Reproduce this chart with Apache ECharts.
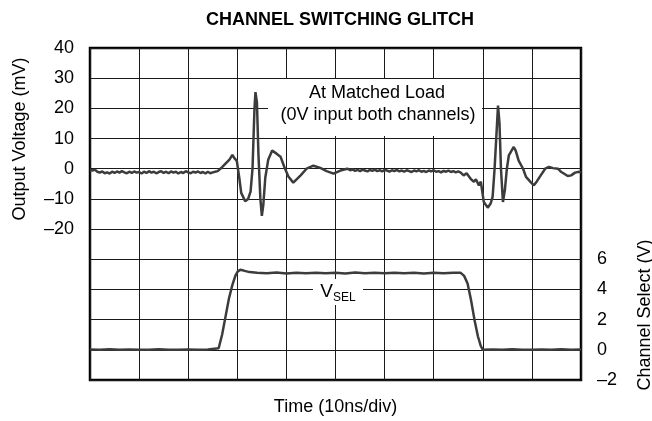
<!DOCTYPE html>
<html>
<head>
<meta charset="utf-8">
<script src="https://cdn.jsdelivr.net/npm/echarts@6/dist/echarts.min.js"></script>
<style>
html,body{margin:0;padding:0;background:#fff;}
#chart{width:652px;height:421px;}
</style>
</head>
<body>
<div id="chart"></div>
<script>
// ---- Data ----
// Output voltage trace: time (ns) and mV
var outputTime = [
  0,0.5,1,1.5,2,2.5,3,3.5,4,4.5,5,5.5,6,6.5,7,7.5,8,8.5,9,9.5,
  10,10.5,11,11.5,12,12.5,13,13.5,14,14.5,15,15.5,16,16.5,17,17.5,18,18.5,19,19.5,
  20,20.5,21,21.5,22,22.5,23,23.5,24,24.5,25,25.5,26,
  26.9,27.8,28.4,29.0,29.4,29.9,30.4,30.8,31.6,32.2,32.7,33.1,33.5,33.7,34.0,34.3,34.7,35.0,35.3,35.7,
  36.3,37.1,38.0,38.8,39.6,40.4,41.4,42.9,44.1,45.5,46.9,48.2,49.6,51.0,52.4,
  53,53.5,54,54.5,55,55.5,56,56.5,57,57.5,58,58.5,59,59.5,60,60.5,61,61.5,62,62.5,
  63,63.5,64,64.5,65,65.5,66,66.5,67,67.5,68,68.5,69,69.5,70,70.5,71,71.5,72,72.5,
  73,73.5,74,74.5,75,75.5,
  76.1,76.7,77.6,78.2,78.6,79.2,79.6,80.2,81.0,81.6,82.0,82.4,82.9,83.1,83.4,83.7,84.1,84.5,84.9,85.3,
  86.3,86.7,87.3,88.2,88.8,89.8,90.4,91.0,91.8,92.7,93.5,94.3,95.3,95.9,96.5,97.3,98.0,98.8,99.6,100
];
var outputMv = [
  -0.4,-0.6,-0.3,-1.0,-1.3,-0.9,-1.5,-1.2,-1.6,-1.0,-1.4,-0.9,-1.3,-0.8,-1.2,-1.5,-1.0,-1.4,-0.9,-1.3,
  -1.1,-1.6,-1.0,-1.4,-0.8,-1.3,-1.0,-1.5,-1.1,-0.8,-1.4,-1.0,-1.5,-0.9,-1.3,-1.0,-1.6,-1.1,-1.4,-0.8,
  -1.2,-1.5,-1.0,-1.3,-0.9,-1.4,-1.1,-1.6,-1.0,-1.5,-1.2,-1.0,-0.8,
  0.5,2.0,3.0,4.6,3.5,2.6,-3,-8,-10.8,-10,-7.6,0,20,25.4,22,5,-10,-15.6,-12,-3,
  3,6,5,4,0.5,-2.6,-4.6,-2.2,0,1,0.3,-0.8,-1.6,-0.6,0,
  -0.5,-0.2,-0.7,-0.4,-0.8,-0.3,-0.6,-0.9,-0.4,-0.7,-0.3,-0.8,-0.5,-0.9,-0.4,-0.6,-1.0,-0.5,-0.8,-0.4,
  -0.9,-0.6,-1.0,-0.5,-0.8,-1.1,-0.6,-0.9,-0.5,-1.0,-0.7,-1.1,-0.6,-0.9,-0.5,-1.0,-0.8,-1.2,-0.7,-1.0,
  -0.6,-1.1,-0.8,-1.2,-0.9,-1.3,
  -2.2,-1.5,-3.5,-4.3,-3.5,-5.5,-4.3,-11,-12.9,-11.5,-9.3,0,15,20.9,15,0,-11,-7,0,4.4,
  7.2,6,2.7,0,-2.7,-4.5,-5.5,-4.2,-2.2,0,0.6,0.2,0,-1,-1.6,-2.4,-2.2,-1.3,-1.0,-1.2
];
// Channel select (VSEL) trace: time (ns) and V
var vselTime = [
  0,2,4,6,8,10,12,14,16,18,20,22,24,26.2,
  26.9,27.6,28.3,29.0,29.6,30.1,30.6,31.3,32.5,34,36,38,40,42,44,46,48,50,52,54,56,58,60,
  62,64,66,68,70,72,74,75.5,
  76.2,76.9,77.6,78.3,79.0,79.6,80.0,82,84,86,88,90,92,94,96,98,100
];
var vselV = [
  0.02,0.0,0.03,0.0,0.02,0.01,0.0,0.03,0.01,0.0,0.02,0.0,0.02,0.1,
  1.0,2.2,3.4,4.3,4.9,5.2,5.3,5.25,5.15,5.1,5.08,5.12,5.06,5.1,5.07,5.11,5.08,5.1,5.06,5.12,5.08,5.1,5.07,
  5.11,5.08,5.1,5.06,5.1,5.08,5.1,5.1,
  4.9,4.4,3.3,2.0,0.9,0.25,0.0,0.02,0.0,0.03,0.01,0.0,0.02,0.0,0.03,0.0,0.02
];
// Tick settings
var leftTicks = {min: -70, max: 40, step: 10, lowestLabel: -20};
var rightTicks = {min: -2, max: 20, step: 2, highestLabel: 6};
var timeTicks = {min: 0, max: 100, step: 10};

function pairs(xs, ys) { return xs.map(function (x, i) { return [x, ys[i]]; }); }
function fmt(v) { return v < 0 ? '\u2013' + Math.abs(v) : String(v); }

var FONT = 'Liberation Sans, Arial, Helvetica, sans-serif';
var chart = echarts.init(document.getElementById('chart'), null, {renderer: 'canvas'});
chart.setOption({
  backgroundColor: '#fff',
  animation: false,
  title: {
    text: 'CHANNEL SWITCHING GLITCH',
    left: 335, top: 6, textAlign: 'center',
    textStyle: {fontFamily: FONT, fontSize: 18, fontWeight: 'bold', color: '#000'}
  },
  grid: {left: 90, right: 71, top: 48, bottom: 40, show: true, borderColor: '#000', borderWidth: 2.5, backgroundColor: 'transparent'},
  xAxis: {
    type: 'value', min: timeTicks.min, max: timeTicks.max, interval: timeTicks.step,
    name: 'Time (10ns/div)', nameLocation: 'middle', nameGap: 18,
    nameTextStyle: {fontFamily: FONT, fontSize: 18, color: '#000'},
    axisLine: {show: false}, axisTick: {show: false}, axisLabel: {show: false},
    splitLine: {show: true, lineStyle: {color: '#1a1a1a', width: 1}}
  },
  yAxis: [
    {
      type: 'value', min: leftTicks.min, max: leftTicks.max, interval: leftTicks.step,
      axisLine: {show: false}, axisTick: {show: false},
      axisLabel: {
        margin: 16, fontFamily: FONT, fontSize: 18, color: '#000',
        formatter: function (v) { return v >= leftTicks.lowestLabel ? fmt(v) : ''; }
      },
      splitLine: {show: true, lineStyle: {color: '#1a1a1a', width: 1}}
    },
    {
      type: 'value', position: 'right', min: rightTicks.min, max: rightTicks.max, interval: rightTicks.step,
      axisLine: {show: false}, axisTick: {show: false},
      axisLabel: {
        margin: 16, fontFamily: FONT, fontSize: 18, color: '#000',
        formatter: function (v) { return v <= rightTicks.highestLabel ? fmt(v) : ''; }
      },
      splitLine: {show: false}
    }
  ],
  series: [
    {
      type: 'line', yAxisIndex: 0, data: pairs(outputTime, outputMv),
      showSymbol: false, smooth: false, z: 5,
      lineStyle: {color: '#3c3c3c', width: 2.5}
    },
    {
      type: 'line', yAxisIndex: 1, data: pairs(vselTime, vselV),
      showSymbol: false, smooth: false, z: 5,
      lineStyle: {color: '#3c3c3c', width: 2.5}
    }
  ],
  graphic: [
    {type: 'rect', shape: {x: 268, y: 79, width: 214, height: 57}, style: {fill: '#fff'}, z: 3, silent: true},
    {type: 'text', x: 377, y: 93, z: 4, style: {text: 'At Matched Load', fontFamily: FONT, fontSize: 18, fill: '#000', align: 'center', verticalAlign: 'middle'}},
    {type: 'text', x: 378, y: 115, z: 4, style: {text: '(0V input both channels)', fontFamily: FONT, fontSize: 18, fill: '#000', align: 'center', verticalAlign: 'middle'}},
    {type: 'rect', shape: {x: 313, y: 279, width: 50, height: 26}, style: {fill: '#fff'}, z: 3, silent: true},
    {type: 'text', x: 338, y: 292, z: 4, style: {
      text: '{v|V}{s|SEL}', align: 'center', verticalAlign: 'middle',
      rich: {
        v: {fontFamily: FONT, fontSize: 19, fill: '#000', color: '#000'},
        s: {fontFamily: FONT, fontSize: 12, fill: '#000', color: '#000', padding: [12, 0, 0, 0]}
      }
    }},
    {type: 'text', x: 20, y: 139, rotation: Math.PI / 2, z: 4, style: {text: 'Output Voltage (mV)', fontFamily: FONT, fontSize: 18, fill: '#000', align: 'center', verticalAlign: 'middle'}},
    {type: 'text', x: 645, y: 315, rotation: Math.PI / 2, z: 4, style: {text: 'Channel Select (V)', fontFamily: FONT, fontSize: 18, fill: '#000', align: 'center', verticalAlign: 'middle'}}
  ]
});
</script>
</body>
</html>
